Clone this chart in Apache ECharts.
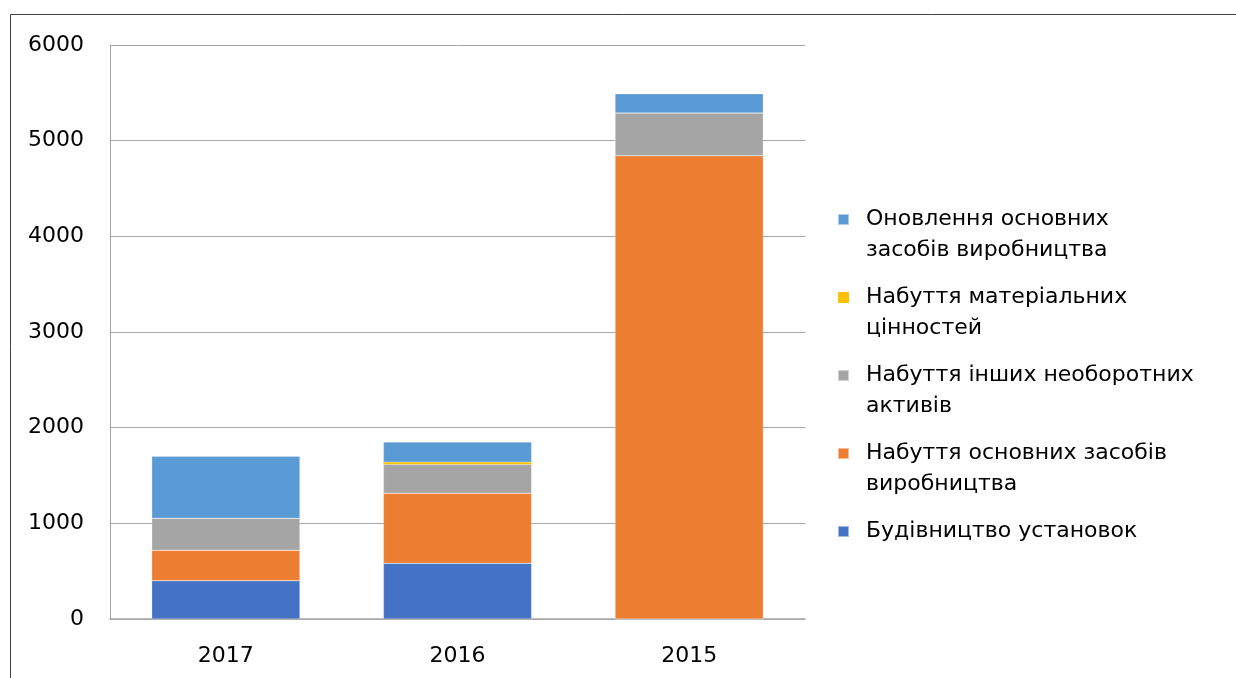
<!DOCTYPE html>
<html><head><meta charset="utf-8">
<script src="https://cdn.jsdelivr.net/npm/echarts@6/dist/echarts.min.js"></script>
<style>html,body{margin:0;padding:0;background:#fff}#c{width:1236px;height:678px}</style>
</head><body><div id="c"></div>
<script>
const categories = ['2017', '2016', '2015'];
const seriesNames = [
  'Будівництво установок',
  'Набуття основних засобів виробництва',
  'Набуття інших необоротних активів',
  'Набуття матеріальних цінностей',
  'Оновлення основних засобів виробництва'
];
const legendLines = {
  'Будівництво установок': ['Будівництво установок', '\u00a0'],
  'Набуття основних засобів виробництва': ['Набуття основних засобів', 'виробництва'],
  'Набуття інших необоротних активів': ['Набуття інших необоротних', 'активів'],
  'Набуття матеріальних цінностей': ['Набуття матеріальних', 'цінностей'],
  'Оновлення основних засобів виробництва': ['Оновлення основних', 'засобів виробництва']
};
const buildValues = [400, 582, 0];
const fixedAssetValues = [318, 732, 4843];
const otherAssetValues = [334, 303, 446];
const materialValues = [0, 22, 0];
const renewalValues = [648, 211, 202];
const yTicks = [0, 1000, 2000, 3000, 4000, 5000, 6000];
const colors = ['#4472C4', '#ED7D31', '#A5A5A5', '#FFC000', '#5B9BD5'];
const allValues = [buildValues, fixedAssetValues, otherAssetValues, materialValues, renewalValues];

const font = 'DejaVu Sans';
const chart = echarts.init(document.getElementById('c'));
chart.setOption({
  animation: false,
  textStyle: { fontFamily: font },
  graphic: [{
    type: 'rect', silent: true, z: -10,
    shape: { x: 10.5, y: 14.5, width: 1400, height: 800 },
    style: { fill: 'none', stroke: '#404040', lineWidth: 1 }
  }],
  grid: { left: 110, right: 431, top: 45, bottom: 59 },
  xAxis: {
    type: 'category', data: categories,
    axisLine: { lineStyle: { color: '#a6a6a6', width: 1.5 } },
    axisTick: { show: false },
    axisLabel: { color: '#000', fontSize: 22, fontFamily: font, margin: 26 }
  },
  yAxis: {
    type: 'value', min: yTicks[0], max: yTicks[yTicks.length - 1], interval: 1000,
    axisLine: { show: true, lineStyle: { color: '#a6a6a6', width: 1 } },
    axisTick: { show: false },
    splitLine: { lineStyle: { color: '#a6a6a6', width: 1 } },
    axisLabel: { color: '#000', fontSize: 22, fontFamily: font, margin: 26, formatter: v => String(v) }
  },
  legend: {
    orient: 'vertical', left: 832, top: 168,
    itemWidth: 11, itemHeight: 11, itemGap: -15, icon: 'rect',
    data: seriesNames.slice().reverse(),
    formatter: n => '\u00a0\n' + legendLines[n].join('\n'),
    textStyle: { color: '#000', fontSize: 22, fontFamily: font, lineHeight: 31, padding: [0, 0, 0, 12] }
  },
  series: seriesNames.map((name, i) => ({
    name, type: 'bar', stack: 'total', data: allValues[i],
    barCategoryGap: '36%',
    itemStyle: { color: colors[i], borderColor: 'rgba(255,255,255,0.5)', borderWidth: i === 3 ? 0 : 0.5 }
  }))
});
</script></body></html>
